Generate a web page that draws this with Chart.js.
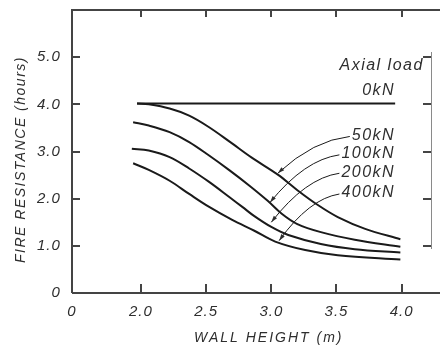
<!DOCTYPE html>
<html>
<head>
<meta charset="utf-8">
<script src="https://cdn.jsdelivr.net/npm/chart.js@4.4.1/dist/chart.umd.min.js"></script>
<style>
  html, body { margin: 0; padding: 0; background: #fff; }
</style>
</head>
<body>
<canvas id="fireChart" width="440" height="349"></canvas>
<script>
// axis ranges (x axis is broken: its origin is labelled 0)
var xMin = 1.47, xMax = 4.225, yMax = 6.0;
var xTicks = [1.47, 2.0, 2.5, 3.0, 3.5, 4.0];
var yTicks = [0, 1, 2, 3, 4, 5];

// fire resistance (hours) vs wall height (m) per axial load
var load0 = [{x: 1.97, y: 4.02}, {x: 3.95, y: 4.02}];
var load50 = [
  {x: 1.97, y: 4.02}, {x: 2.06, y: 4.0}, {x: 2.22, y: 3.91}, {x: 2.37, y: 3.76},
  {x: 2.52, y: 3.52}, {x: 2.68, y: 3.21}, {x: 2.85, y: 2.87}, {x: 3.05, y: 2.51},
  {x: 3.2, y: 2.18}, {x: 3.36, y: 1.86}, {x: 3.51, y: 1.61}, {x: 3.72, y: 1.36},
  {x: 3.99, y: 1.14}
];
var load100 = [
  {x: 1.94, y: 3.62}, {x: 2.06, y: 3.55}, {x: 2.22, y: 3.41}, {x: 2.37, y: 3.2},
  {x: 2.52, y: 2.92}, {x: 2.68, y: 2.6}, {x: 2.83, y: 2.28}, {x: 2.97, y: 1.96},
  {x: 3.08, y: 1.68}, {x: 3.2, y: 1.46}, {x: 3.38, y: 1.29}, {x: 3.64, y: 1.13},
  {x: 3.99, y: 0.98}
];
var load200 = [
  {x: 1.93, y: 3.06}, {x: 2.06, y: 3.02}, {x: 2.22, y: 2.88}, {x: 2.37, y: 2.64},
  {x: 2.52, y: 2.36}, {x: 2.68, y: 2.03}, {x: 2.78, y: 1.82}, {x: 2.87, y: 1.63},
  {x: 3.0, y: 1.4}, {x: 3.13, y: 1.23}, {x: 3.38, y: 1.04}, {x: 3.64, y: 0.93},
  {x: 3.99, y: 0.86}
];
var load400 = [
  {x: 1.94, y: 2.75}, {x: 2.06, y: 2.61}, {x: 2.22, y: 2.38}, {x: 2.37, y: 2.1},
  {x: 2.52, y: 1.83}, {x: 2.7, y: 1.55}, {x: 2.87, y: 1.32}, {x: 3.03, y: 1.09},
  {x: 3.26, y: 0.91}, {x: 3.51, y: 0.8}, {x: 3.99, y: 0.71}
];

// curve labels and where their arrows point (data units)
var loadNames = ["50kN", "100kN", "200kN", "400kN"];
var labelY = [3.34, 2.95, 2.56, 2.12];
var labelRightX = 3.95;
var arrowTipX = [3.05, 2.99, 3.0, 3.06];
var arrowTipY = [2.54, 1.92, 1.5, 1.11];

var FONT = "'Liberation Sans', Arial, sans-serif";
var INK = "#1a1a1a";
var TEXT = "#2e2e2e";

var spacing = {
  id: 'spacing',
  beforeUpdate: function (chart) { chart.ctx.letterSpacing = '1px'; },
  beforeDraw: function (chart) { chart.ctx.letterSpacing = '1px'; }
};

var frame = {
  id: 'frame',
  afterDraw: function (chart) {
    var ctx = chart.ctx, a = chart.chartArea;
    var xs = chart.scales.x, ys = chart.scales.y;
    var L = Math.round(a.left), R = Math.round(a.right), T = Math.round(a.top), B = Math.round(a.bottom);
    ctx.save();
    ctx.fillStyle = "#444";
    ctx.fillRect(L, T - 1, chart.width - L, 2);
    ctx.fillRect(L, B - 1, chart.width - L, 2);
    ctx.fillRect(L - 1, T - 1, 2, B - T + 1);
    xTicks.slice(1).forEach(function (v) {
      var px = Math.round(xs.getPixelForValue(v));
      ctx.fillRect(px - 1, B - 9, 2, 9);
      ctx.fillRect(px - 1, T, 2, 7);
    });
    yTicks.slice(1).forEach(function (v) {
      var py = Math.round(ys.getPixelForValue(v));
      ctx.fillRect(L, py - 1, 8, 2);
      ctx.fillRect(R - 8, py - 1, 8, 2);
    });
    ctx.fillStyle = "#8a8a8a";
    ctx.fillRect(R, T + 42, 1, B - T - 86);

    // axis titles
    ctx.fillStyle = TEXT;
    ctx.font = "italic 14px " + FONT;
    ctx.textAlign = 'center';
    ctx.textBaseline = 'middle';
    ctx.letterSpacing = '2px';
    ctx.fillText("WALL HEIGHT (m)", xs.getPixelForValue(2.98), 338);
    ctx.letterSpacing = '1.5px';
    ctx.save();
    ctx.translate(21, ys.getPixelForValue(2.83));
    ctx.rotate(-Math.PI / 2);
    ctx.fillText("FIRE RESISTANCE (hours)", 0, 0);
    ctx.restore();

    // annotations
    ctx.font = "italic 16px " + FONT;
    ctx.letterSpacing = '1.5px';
    ctx.textAlign = 'right';
    var rx = xs.getPixelForValue(labelRightX);
    ctx.fillText("Axial load", xs.getPixelForValue(4.17), ys.getPixelForValue(4.83));
    ctx.fillText("0kN", rx, ys.getPixelForValue(4.3));
    ctx.strokeStyle = INK;
    ctx.lineWidth = 1;
    loadNames.forEach(function (name, i) {
      var ty = ys.getPixelForValue(labelY[i]);
      ctx.fillText(name, rx, ty);
      var w = ctx.measureText(name).width;
      var sx = rx - w - 2, sy = ty + 1;
      var tx = xs.getPixelForValue(arrowTipX[i]), tty = ys.getPixelForValue(arrowTipY[i]);
      var cx = tx + (sx - tx) * 0.5, cy = sy + (tty - sy) * 0.1;
      ctx.beginPath();
      ctx.moveTo(sx, sy);
      ctx.quadraticCurveTo(cx, cy, tx, tty);
      ctx.stroke();
      var ang = Math.atan2(tty - cy, tx - cx);
      ctx.beginPath();
      ctx.moveTo(tx, tty);
      ctx.lineTo(tx - 7 * Math.cos(ang - 0.3), tty - 7 * Math.sin(ang - 0.3));
      ctx.lineTo(tx - 7 * Math.cos(ang + 0.3), tty - 7 * Math.sin(ang + 0.3));
      ctx.closePath();
      ctx.fill();
    });
    ctx.restore();
  }
};

function curve(data) {
  return {
    data: data,
    borderColor: INK,
    borderWidth: 2,
    pointRadius: 0,
    fill: false,
    tension: 0.35
  };
}

new Chart(document.getElementById("fireChart").getContext('2d'), {
  type: 'line',
  data: {
    datasets: [curve(load0), curve(load50), curve(load100), curve(load200), curve(load400)]
  },
  plugins: [spacing, frame],
  options: {
    responsive: false,
    animation: false,
    layout: { padding: { left: 26, right: 9, top: 10, bottom: 18 } },
    scales: {
      x: {
        type: 'linear',
        min: xMin,
        max: xMax,
        afterBuildTicks: function (s) { s.ticks = xTicks.map(function (v) { return {value: v}; }); },
        ticks: {
          autoSkip: false,
          maxRotation: 0,
          padding: 10,
          color: TEXT,
          font: { family: FONT, size: 15, style: 'italic' },
          callback: function (v) { return v === xMin ? '0' : v.toFixed(1); }
        },
        grid: { display: false, drawTicks: false },
        border: { display: false }
      },
      y: {
        type: 'linear',
        min: 0,
        max: yMax,
        afterBuildTicks: function (s) { s.ticks = yTicks.map(function (v) { return {value: v}; }); },
        afterFit: function (s) { s.paddingTop = 0; },
        ticks: {
          padding: 11,
          color: TEXT,
          font: { family: FONT, size: 15, style: 'italic' },
          callback: function (v) { return v === 0 ? '0' : v.toFixed(1); }
        },
        grid: { display: false, drawTicks: false },
        border: { display: false }
      }
    },
    plugins: {
      legend: { display: false },
      tooltip: { enabled: false }
    }
  }
});
</script>
</body>
</html>
